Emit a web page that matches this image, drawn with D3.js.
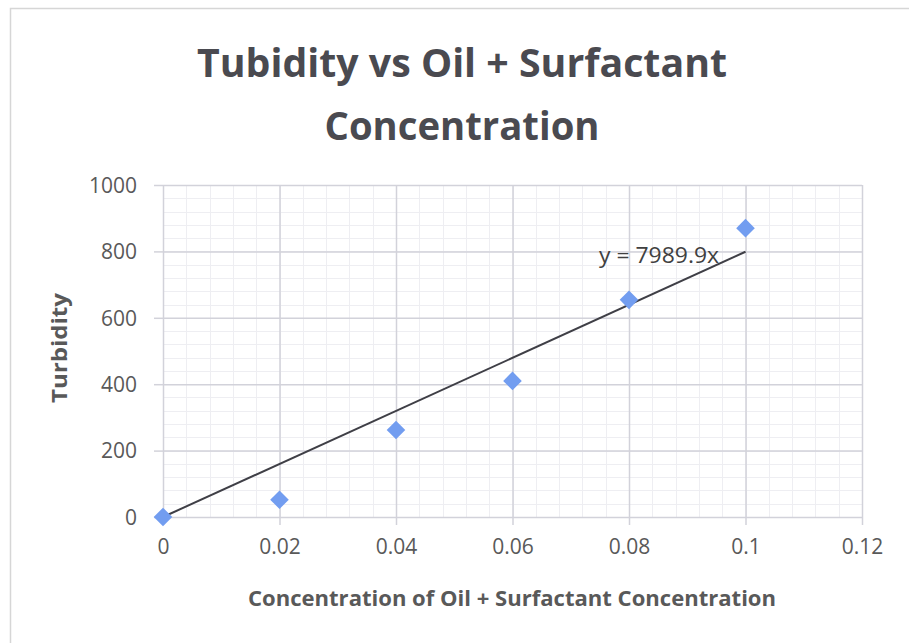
<!DOCTYPE html>
<html>
<head>
<meta charset="utf-8">
<script src="https://cdn.jsdelivr.net/npm/d3@7"></script>
<style>
  html, body { margin: 0; padding: 0; background: #ffffff; }
  svg { display: block; }
</style>
</head>
<body>
<svg id="chart" width="909" height="643"></svg>
<script>
// Measured concentration (oil + surfactant) and turbidity readings
const concentration = [0, 0.02, 0.04, 0.06, 0.08, 0.1];
const turbidity = [0, 52, 262, 410, 654, 870];

// Linear trendline through origin: y = slope * x
const trendSlope = 7989.9;
const trendLabel = "y = 7989.9x";

// Axis ticks
const xTicks = [0, 0.02, 0.04, 0.06, 0.08, 0.1, 0.12];
const yTicks = [0, 200, 400, 600, 800, 1000];
const xMinorStep = 0.004;
const yMinorStep = 40;

const titleLines = ["Tubidity vs Oil + Surfactant", "Concentration"];
const xTitle = "Concentration of Oil + Surfactant Concentration";
const yTitle = "Turbidity";

const svg = d3.select("#chart");

const plot = { left: 163, right: 862, top: 185, bottom: 517 };

const x = d3.scaleLinear().domain([0, 0.12]).range([plot.left, plot.right]);
const y = d3.scaleLinear().domain([0, 1000]).range([plot.bottom, plot.top]);

const font = "'Open Sans', 'DejaVu Sans', sans-serif";
const textColor = "#595959";

// Chart frame
svg.append("rect")
  .attr("x", 10.5).attr("y", 8.5)
  .attr("width", 1000).attr("height", 1000)
  .attr("fill", "#ffffff")
  .attr("stroke", "#d6d6d6")
  .attr("stroke-width", 1.5);

// Squeeze or stretch text to a given width, keeping it as text
function fitWidth(sel, width) {
  sel.each(function () {
    if (this.getComputedTextLength() > 0) {
      d3.select(this).attr("textLength", width).attr("lengthAdjust", "spacingAndGlyphs");
    }
  });
  return sel;
}

// Minor gridlines
const xMinor = d3.range(0, 0.12 + 1e-9, xMinorStep);
const yMinor = d3.range(0, 1000 + 1e-9, yMinorStep);
const minor = svg.append("g").attr("stroke", "#eeeef2").attr("stroke-width", 1);
minor.selectAll("line.vx").data(xMinor).join("line")
  .attr("x1", d => Math.round(x(d)) + 0.5).attr("x2", d => Math.round(x(d)) + 0.5)
  .attr("y1", plot.top).attr("y2", plot.bottom);
minor.selectAll("line.hy").data(yMinor).join("line")
  .attr("y1", d => Math.round(y(d)) + 0.5).attr("y2", d => Math.round(y(d)) + 0.5)
  .attr("x1", plot.left).attr("x2", plot.right);

// Major gridlines via axes with full-length ticks
const gridColor = "#d2d2da";
const xGrid = svg.append("g")
  .attr("transform", `translate(0,${plot.bottom})`)
  .call(d3.axisBottom(x).tickValues(xTicks).tickSize(-(plot.bottom - plot.top)).tickFormat(""));
const yGrid = svg.append("g")
  .attr("transform", `translate(${plot.left},0)`)
  .call(d3.axisLeft(y).tickValues(yTicks).tickSize(-(plot.right - plot.left)).tickFormat(""));
[xGrid, yGrid].forEach(g => {
  g.select(".domain").remove();
  g.selectAll("line").attr("stroke", gridColor).attr("stroke-width", 1.5);
});

// Outward tick marks and labels
const xAxis = svg.append("g")
  .attr("transform", `translate(0,${plot.bottom})`)
  .call(d3.axisBottom(x).tickValues(xTicks).tickSize(8).tickPadding(14)
    .tickFormat(d => d3.format("~g")(d)));
const yAxis = svg.append("g")
  .attr("transform", `translate(${plot.left},0)`)
  .call(d3.axisLeft(y).tickValues(yTicks).tickSize(9).tickPadding(17)
    .tickFormat(d3.format("d")));
[xAxis, yAxis].forEach(g => {
  g.select(".domain").remove();
  g.selectAll("line").attr("stroke", gridColor).attr("stroke-width", 1.5);
  g.selectAll("text")
    .attr("fill", textColor)
    .style("font-family", font)
    .style("font-size", "21px");
});
xAxis.selectAll("text").attr("dy", "0.71em");
yAxis.selectAll("text").attr("dy", "0.35em");

// Trendline
const xEnd = d3.max(concentration);
svg.append("line")
  .attr("x1", x(0)).attr("y1", y(0))
  .attr("x2", x(xEnd)).attr("y2", y(trendSlope * xEnd))
  .attr("stroke", "#3f3f46")
  .attr("stroke-width", 2);

// Data markers (diamonds)
const diamond = d3.symbol().type(d3.symbolDiamond2).size(220);
svg.append("g").selectAll("path")
  .data(concentration.map((c, i) => [c, turbidity[i]]))
  .join("path")
  .attr("d", diamond)
  .attr("transform", d => `translate(${x(d[0])},${y(d[1])})`)
  .attr("fill", "#729df0");

// Trendline equation
svg.append("text")
  .attr("x", 659).attr("y", 263)
  .attr("text-anchor", "middle")
  .attr("fill", "#404040")
  .style("font-family", font)
  .style("font-size", "21px")
  .text(trendLabel)
  .call(fitWidth, 120);

// Title
const title = svg.append("g");
title.append("text")
  .attr("x", 462).attr("y", 77)
  .attr("text-anchor", "middle")
  .attr("fill", "#4a4a50")
  .style("font-family", font).style("font-weight", "700").style("font-size", "40px")
  .text(titleLines[0])
  .call(fitWidth, 530);
title.append("text")
  .attr("x", 462).attr("y", 140)
  .attr("text-anchor", "middle")
  .attr("fill", "#4a4a50")
  .style("font-family", font).style("font-weight", "700").style("font-size", "40px")
  .text(titleLines[1])
  .call(fitWidth, 275);

// Axis titles
svg.append("text")
  .attr("x", 512).attr("y", 606)
  .attr("text-anchor", "middle")
  .attr("fill", textColor)
  .style("font-family", font).style("font-weight", "700").style("font-size", "22px")
  .text(xTitle)
  .call(fitWidth, 528);

svg.append("text")
  .attr("transform", `translate(67,348) rotate(-90)`)
  .attr("text-anchor", "middle")
  .attr("fill", textColor)
  .style("font-family", font).style("font-weight", "700").style("font-size", "22px")
  .text(yTitle)
  .call(fitWidth, 110);
</script>
</body>
</html>
